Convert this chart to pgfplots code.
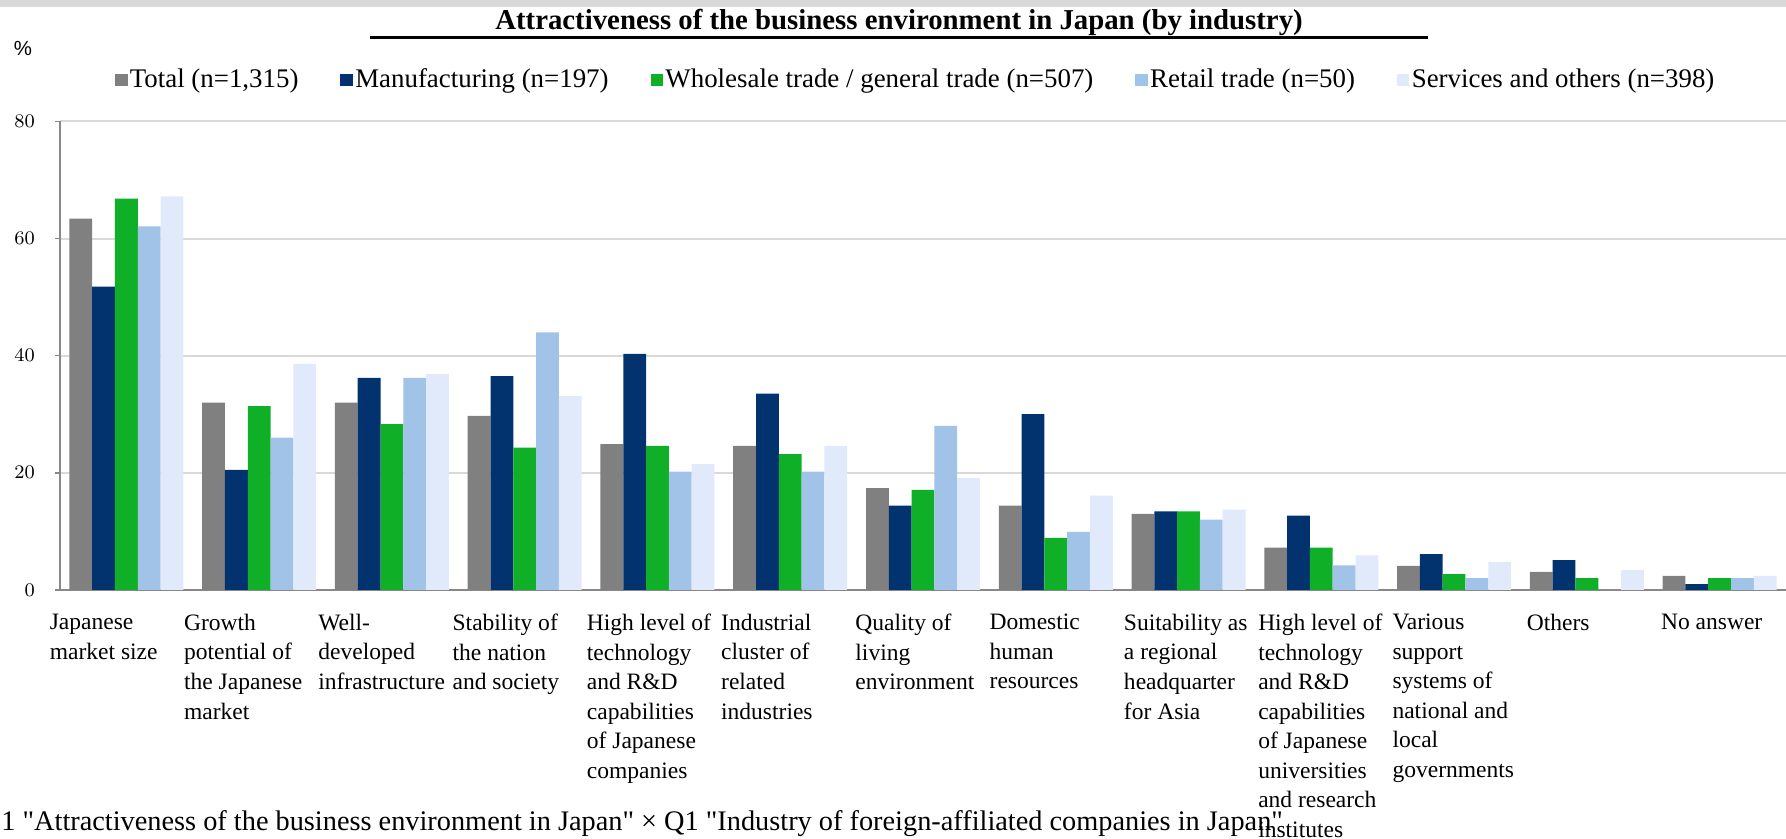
\documentclass[border=0pt]{standalone}
\usepackage{fontspec}
\setmainfont{Liberation Serif}
\newfontfamily\notefont[Ligatures=TeXOff]{Liberation Serif}
\newfontfamily\ticksf{Liberation Sans}
\usepackage{pgfplots}
\usepackage{pgfplotstable}
\pgfplotsset{compat=1.18}

\definecolor{cTotal}{HTML}{808080}
\definecolor{cMfg}{HTML}{03336F}
\definecolor{cWhl}{HTML}{0FAF27}
\definecolor{cRet}{HTML}{A1C3E7}
\definecolor{cSvc}{HTML}{E1EAFA}
\definecolor{gridc}{HTML}{D9D9D9}
\definecolor{axisc}{HTML}{888888}

% values in %
\pgfplotstableread{
idx total mfg whl ret svc
0  63.4 51.8 66.8 62.1 67.2
1  32.0 20.5 31.4 26.0 38.6
2  32.0 36.2 28.3 36.2 36.9
3  29.7 36.5 24.3 44.0 33.1
4  24.9 40.3 24.6 20.2 21.5
5  24.6 33.5 23.2 20.2 24.6
6  17.4 14.4 17.1 28.0 19.1
7  14.4 30.0 8.9  9.9  16.1
8  13.0 13.4 13.4 12.0 13.7
9  7.2  12.7 7.2  4.2  5.9
10 4.1  6.1  2.7  2.0  4.8
11 3.1  5.1  2.0  0.0  3.4
12 2.4  1.0  2.0  2.0  2.4
}\attract

\pgfplotsset{sq legend/.style={legend image code/.code={\fill[##1] (0pt,-2.6pt) rectangle (5.2pt,2.6pt);}}}

\begin{document}
\begin{tikzpicture}[x=1pt,y=1pt]
\useasboundingbox (-25,-103.75) rectangle (719.17,245.8);
\fill[gridc] (-25,242.9) rectangle (719.17,245.8);

\begin{axis}[
  at={(0,0)}, anchor=south west, scale only axis,
  width=719.17pt, height=195.2pt,
  ybar, bar width=0.1717,
  xmin=-0.5, xmax=12.5, ymin=0, ymax=80,
  ytick={0,20,40,60,80},
  xtick={0,1.0113,2.0226,3.0339,4.0452,5.0565,6.0678,7.0791,8.0904,9.1017,10.113,11.1243,12.1356},
  xticklabels={
    {Japanese\\market size},
    {Growth\\potential of\\the Japanese\\market},
    {Well-\\developed\\infrastructure},
    {Stability of\\the nation\\and society},
    {High level of\\technology\\and R\&D\\capabilities\\of Japanese\\companies},
    {Industrial\\cluster of\\related\\industries},
    {Quality of\\living\\environment},
    {Domestic\\human\\resources},
    {Suitability as\\a regional\\headquarter\\for Asia},
    {High level of\\technology\\and R\&D\\capabilities\\of Japanese\\universities\\and research\\institutes},
    {Various\\support\\systems of\\national and\\local\\governments},
    {Others},
    {No answer}},
  xticklabel style={align=left, anchor=north west, inner sep=0pt,
    xshift=-32.1pt, yshift=-7.9pt, font=\fontsize{9.8}{12.3}\selectfont},
  yticklabel style={font=\ticksf\fontsize{8.5}{10}\selectfont, inner sep=0pt, xshift=-8.3pt},
  xtick style={draw=none},
  ytick style={color=axisc, line width=0.6pt},
  tick align=outside, major tick length=2pt,
  ymajorgrids, grid style={line width=0.8pt, color=gridc},
  axis x line*=bottom, axis y line*=left,
  x axis line style={color=axisc, line width=1pt, -},
  y axis line style={color=axisc, line width=0.6pt, -},
  legend style={at={(axis description cs:0.0316,1.089)}, anchor=west,
    draw=none, fill=none, inner sep=0pt, legend columns=5,
    font=\fontsize{11.2}{13}\selectfont, nodes={inner sep=1pt},
    /tikz/every even column/.append style={column sep=16.5pt}},
  legend cell align=left,
]
\addplot[fill=cTotal, draw=none, bar shift=-0.3434, sq legend] table[x=idx, y=total] {\attract};
\addplot[fill=cMfg, draw=none, bar shift=-0.1717, sq legend] table[x=idx, y=mfg] {\attract};
\addplot[fill=cWhl, draw=none, bar shift=0, sq legend] table[x=idx, y=whl] {\attract};
\addplot[fill=cRet, draw=none, bar shift=0.1717, sq legend] table[x=idx, y=ret] {\attract};
\addplot[fill=cSvc, draw=none, bar shift=0.3434, sq legend] table[x=idx, y=svc] {\attract};
\legend{{Total (n=1{,}315)}, {Manufacturing (n=197)}, {Wholesale trade / general trade (n=507)}, {Retail trade (n=50)}, {Services and others (n=398)}}
\end{axis}

\node[anchor=base, inner sep=0pt, font=\bfseries\fontsize{12}{14}\selectfont] at (349.6,233.3)
  {Attractiveness of the business environment in Japan (by industry)};
\draw[line width=1.25pt] (129.2,230.2) -- (570,230.2);
\node[inner sep=0pt, font=\ticksf\fontsize{8.5}{10}\selectfont] at (-15.4,225.8) {\%};
\node[anchor=base west, inner sep=0pt, font=\notefont\fontsize{11.8}{13}\selectfont] at (-24.6,-100.4)
  {1 "Attractiveness of the business environment in Japan" × Q1 "Industry of foreign-affiliated companies in Japan"};
\end{tikzpicture}
\end{document}
